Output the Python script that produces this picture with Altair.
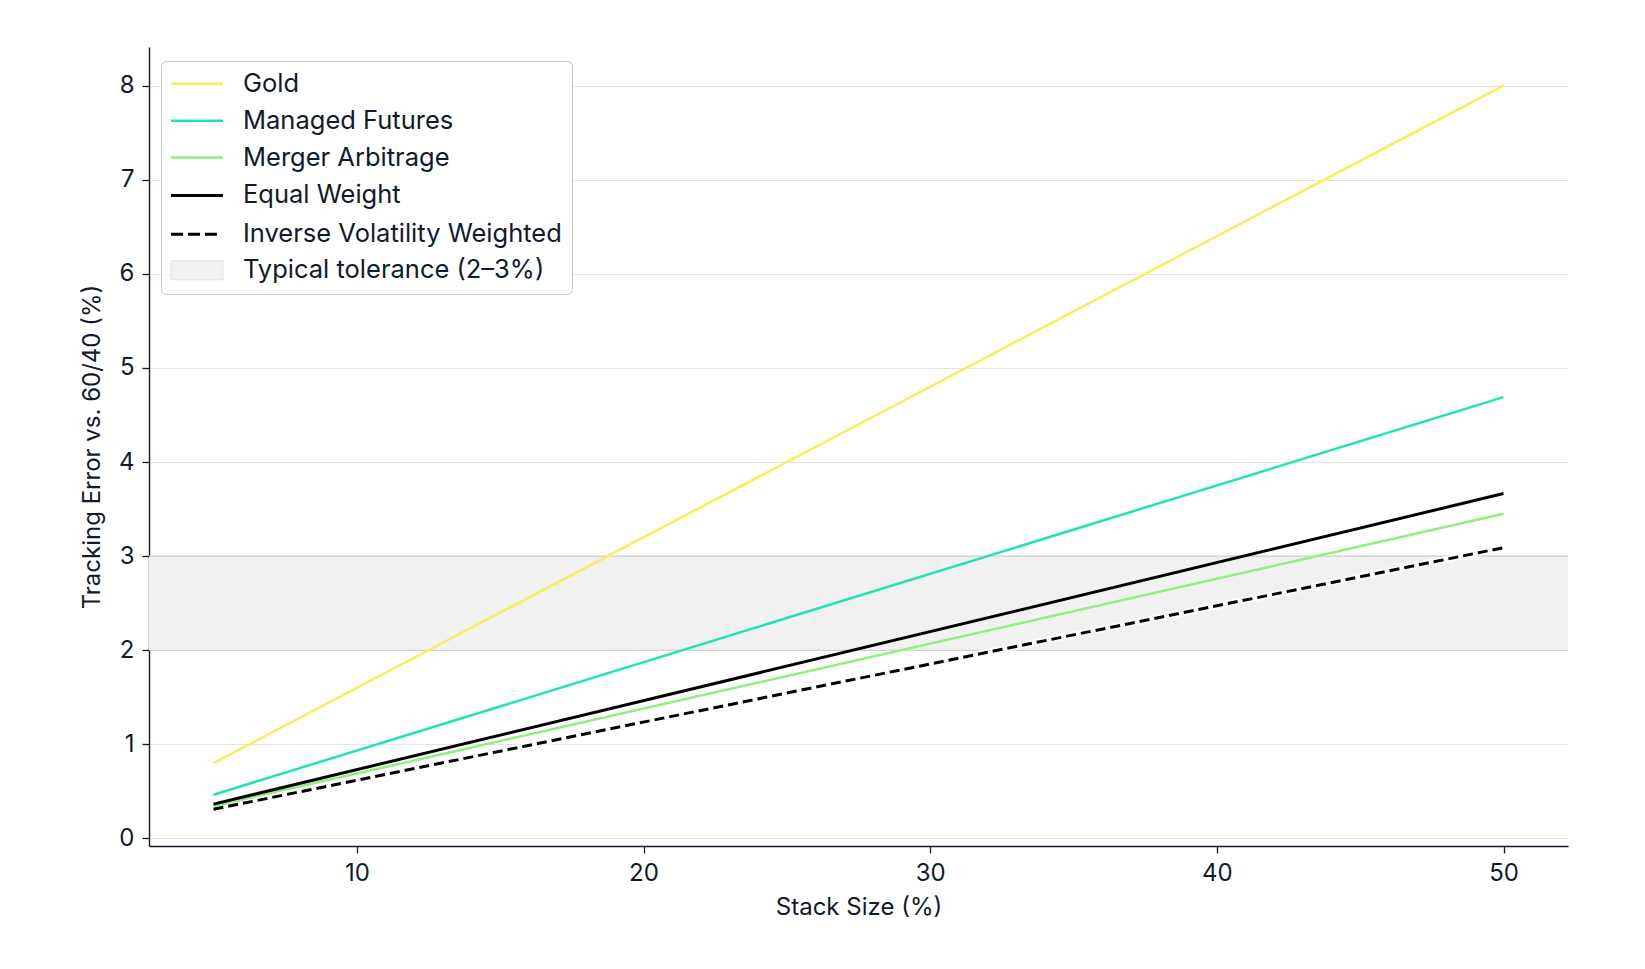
import altair as alt
import pandas as pd

# ---- data ----
stack_size = [5, 50]
gold = [0.80, 8.00]
managed_futures = [0.465, 4.69]
merger_arbitrage = [0.345, 3.45]
equal_weight = [0.365, 3.665]
inverse_vol = [0.31, 3.09]

series_names = ["Gold", "Managed Futures", "Merger Arbitrage",
                "Equal Weight", "Inverse Volatility Weighted"]
band_label = "Typical tolerance (2–3%)"
tol_low = [2]
tol_high = [3]
x_ticks = [10, 20, 30, 40, 50]
y_ticks = [0, 1, 2, 3, 4, 5, 6, 7, 8]

# ---- styling ----
FONT = "Inter"
TEXT = "#0f1b2d"
FS = 24
LFS = 25.5
band_fill = "#f1f1f1"
colors = ["#f6ee5a", "#1fe3b3", "#8ff07c", "#000000", "#000000", "#e2e2e2"]
widths = [2.5, 2.5, 2.5, 3, 3, 1]
fills = ["transparent"] * 5 + [band_fill]
# legend symbol path: a 52px midline, then a 52x19 box around it (units are half-pixels)
legend_path = "M-25.5,0H78.5V-19H-25.5V19H78.5V0"
# legend dash patterns: lines show only the midline, the tolerance entry only the box
legend_dashes = [[52, 400], [52, 400], [52, 400], [52, 400],
                 [12, 5, 12, 5, 12, 400], [0, 52, 200]]

values = [gold, managed_futures, merger_arbitrage, equal_weight, inverse_vol]
rows = []
for i, (name, vals) in enumerate(zip(series_names, values)):
    for x, y in zip(stack_size, vals):
        rows.append({"series": name, "x": x, "y": y, "order": i})
df = pd.DataFrame(rows)
band_df = pd.DataFrame({"lo": tol_low, "hi": tol_high})
edge_df = pd.DataFrame({"v": tol_low + tol_high})

domain_all = series_names + [band_label]

legend = alt.Legend(
    title=None, orient="none", legendX=12, legendY=14,
    symbolType=legend_path, symbolSize=1, symbolFillColor="transparent",
    labelFontSize=LFS, labelFont=FONT, labelColor=TEXT, labelOffset=46.5,
    labelLimit=600, rowPadding=6.9, padding=10,
    strokeColor="#c8c8c8", fillColor="rgba(255,255,255,0.85)", cornerRadius=5,
)

stroke_enc = alt.Stroke("series:N", scale=alt.Scale(domain=domain_all, range=colors), legend=legend)
width_enc = alt.StrokeWidth("series:N", scale=alt.Scale(type="ordinal", domain=domain_all, range=widths),
                            legend=legend)
dash_enc = alt.StrokeDash("series:N", scale=alt.Scale(domain=domain_all, range=legend_dashes),
                          legend=legend)
fill_enc = alt.Fill("series:N", scale=alt.Scale(domain=domain_all, range=fills), legend=legend)

x_scale = alt.Scale(domain=[2.75, 52.25], nice=False, zero=False)
y_scale = alt.Scale(domain=[-0.08, 8.41], nice=False, zero=False)

x_enc = alt.X("x:Q", scale=x_scale, title="Stack Size (%)",
              axis=alt.Axis(values=x_ticks, grid=False, tickSize=7, labelPadding=8,
                            titlePadding=10))
y_enc = alt.Y("y:Q", scale=y_scale, title="Tracking Error vs. 60/40 (%)",
              axis=alt.Axis(values=y_ticks, format="d", grid=True, tickSize=7, labelPadding=8,
                            titlePadding=14))

band = alt.Chart(band_df).mark_rect(color=band_fill).encode(
    x=alt.value(0), x2=alt.value("width"),
    y=alt.Y("lo:Q", scale=y_scale), y2="hi:Q",
)
edges = alt.Chart(edge_df).mark_rule(color="#cdcdcd", strokeWidth=1.2).encode(
    y=alt.Y("v:Q", scale=y_scale),
)

is_dashed = alt.datum.series == "Inverse Volatility Weighted"

# soft white halo under the dashed line (as in the reference)
halo = alt.Chart(df).transform_filter(is_dashed).mark_line(
    color="white", strokeWidth=7, opacity=0.7
).encode(x=alt.X("x:Q", scale=x_scale), y=alt.Y("y:Q", scale=y_scale))

solid_lines = alt.Chart(df).transform_filter(~is_dashed).mark_line().encode(
    x=x_enc, y=y_enc, stroke=stroke_enc, strokeWidth=width_enc, order="order:Q",
)
dashed_line = alt.Chart(df).transform_filter(is_dashed).mark_line(strokeDash=[10, 5]).encode(
    x=x_enc, y=y_enc, stroke=stroke_enc, strokeWidth=width_enc,
)

# legend-only layer (no rows pass the filter); it carries the legend's dash and fill scales
legend_layer = alt.Chart(df).transform_filter("false").mark_line().encode(
    x=alt.X("x:Q", scale=x_scale), y=alt.Y("y:Q", scale=y_scale),
    stroke=stroke_enc, strokeWidth=width_enc, strokeDash=dash_enc, fill=fill_enc,
)

chart = alt.layer(band, edges, halo, solid_lines, dashed_line, legend_layer).properties(
    width=1419, height=799,
    autosize=alt.AutoSizeParams(type="none"),
    padding={"left": 141, "top": 39, "right": 60, "bottom": 105},
    background="white",
).configure_view(stroke=None).configure_axis(
    labelFont=FONT, titleFont=FONT, labelFontSize=FS, titleFontSize=FS,
    labelColor=TEXT, titleColor=TEXT, titleFontWeight="normal",
    domainColor=TEXT, domainWidth=1.4, tickColor=TEXT, tickWidth=1.3,
    gridColor="#e3e3e3", gridWidth=1,
)

chart.save("out.html", embed_options={"renderer": "svg", "actions": False})
